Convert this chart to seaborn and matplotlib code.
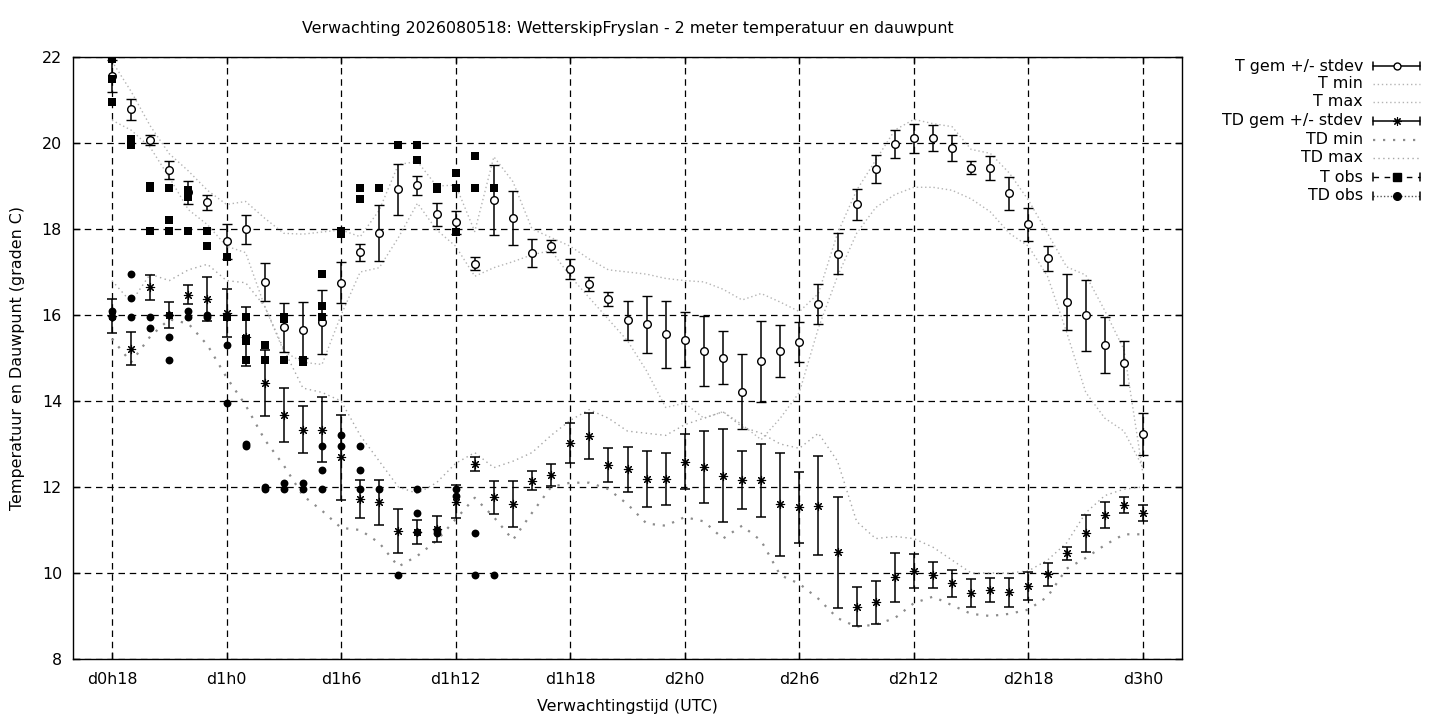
import matplotlib
matplotlib.use("Agg")
import matplotlib.pyplot as plt
from matplotlib.lines import Line2D
import seaborn as sns

sns.set_theme(style="ticks")
plt.rcParams['font.family'] = ['DejaVu Sans']
plt.rcParams['text.color'] = 'black'
plt.rcParams['axes.labelcolor'] = 'black'

# --- data (hours since d0h0) ---
hours = list(range(18, 73))
tick_hours = [18, 24, 30, 36, 42, 48, 54, 60, 66, 72]
tick_labels = ["d0h18", "d1h0", "d1h6", "d1h12", "d1h18",
               "d2h0", "d2h6", "d2h12", "d2h18", "d3h0"]
y_ticks = [8, 10, 12, 14, 16, 18, 20, 22]

t_mean = [21.55, 20.78, 20.07, 19.37, 18.85, 18.62, 17.71, 17.99, 16.77, 15.71,
          15.65, 15.84, 16.75, 17.46, 17.90, 18.92, 19.02, 18.34, 18.16, 17.19,
          18.67, 18.25, 17.44, 17.60, 17.07, 16.72, 16.37, 15.88, 15.78, 15.55,
          15.43, 15.16, 15.01, 14.22, 14.92, 15.16, 15.37, 16.26, 17.43, 18.57,
          19.39, 19.97, 20.11, 20.11, 19.88, 19.43, 19.41, 18.83, 18.11, 17.32,
          16.30, 15.99, 15.30, 14.88, 13.23]
t_sd = [0.37, 0.25, 0.12, 0.20, 0.27, 0.17, 0.40, 0.34, 0.45, 0.58,
        0.65, 0.74, 0.48, 0.20, 0.65, 0.60, 0.22, 0.27, 0.27, 0.15,
        0.82, 0.63, 0.33, 0.14, 0.23, 0.17, 0.17, 0.45, 0.66, 0.78,
        0.63, 0.81, 0.62, 0.87, 0.94, 0.60, 0.47, 0.47, 0.47, 0.36,
        0.32, 0.33, 0.34, 0.30, 0.30, 0.14, 0.28, 0.38, 0.38, 0.29,
        0.65, 0.82, 0.65, 0.51, 0.49]
t_min = [20.53, 20.30, 19.90, 19.20, 18.45, 18.10, 17.60, 17.45, 16.20, 15.15,
         14.90, 14.85, 16.00, 17.00, 17.10, 17.80, 18.60, 17.98, 17.60, 16.90,
         17.10, 17.24, 17.40, 17.50, 16.90, 16.40, 15.90, 15.40, 14.70, 13.85,
         13.95, 13.60, 13.75, 13.45, 13.10, 13.60, 14.20, 15.70, 16.90, 17.90,
         18.50, 18.80, 18.97, 18.97, 18.90, 18.70, 18.40, 17.90, 17.60, 16.90,
         15.60, 14.20, 13.60, 13.30, 12.45]
t_max = [21.90, 21.20, 20.40, 19.75, 19.35, 18.90, 18.57, 18.64, 18.25, 17.90,
         17.88, 17.93, 17.98, 17.82, 18.44, 19.50, 19.57, 19.00, 19.02, 17.94,
         19.68, 19.10, 18.00, 17.80, 17.60, 17.30, 17.05, 17.00, 16.95, 16.85,
         16.80, 16.77, 16.60, 16.35, 16.50, 16.30, 16.08, 16.50, 17.90, 18.90,
         19.60, 20.30, 20.55, 20.45, 20.38, 19.85, 19.76, 19.30, 18.67, 17.90,
         17.12, 16.93, 16.10, 15.20, 12.30]

td_mean = [15.97, 15.22, 16.64, 16.00, 16.47, 16.37, 16.04, 15.50, 14.41, 13.67,
           13.33, 13.33, 12.69, 11.72, 11.64, 10.98, 10.96, 11.02, 11.66, 12.53,
           11.76, 11.60, 12.15, 12.28, 13.02, 13.19, 12.51, 12.41, 12.18, 12.18,
           12.59, 12.47, 12.26, 12.16, 12.16, 11.60, 11.53, 11.56, 10.48, 9.22,
           9.32, 9.90, 10.05, 9.95, 9.76, 9.53, 9.60, 9.55, 9.70, 9.97,
           10.46, 10.92, 11.35, 11.58, 11.39]
td_sd = [0.40, 0.38, 0.30, 0.30, 0.22, 0.52, 0.56, 0.68, 0.77, 0.63,
         0.55, 0.76, 0.99, 0.45, 0.52, 0.51, 0.28, 0.30, 0.38, 0.16,
         0.39, 0.53, 0.22, 0.26, 0.47, 0.53, 0.40, 0.53, 0.65, 0.60,
         0.64, 0.84, 1.08, 0.68, 0.85, 1.20, 0.83, 1.15, 1.29, 0.45,
         0.50, 0.57, 0.40, 0.30, 0.32, 0.32, 0.28, 0.34, 0.32, 0.27,
         0.15, 0.42, 0.30, 0.18, 0.19]
td_min = [15.45, 14.90, 15.50, 15.90, 15.80, 15.30, 14.55, 13.90, 13.10, 12.50,
          11.80, 11.45, 11.05, 11.00, 10.70, 10.15, 10.40, 10.75, 11.25, 11.75,
          11.30, 10.77, 11.40, 12.00, 12.10, 12.10, 11.95, 11.60, 11.15, 11.10,
          11.30, 11.20, 10.80, 11.10, 10.75, 9.95, 9.75, 9.40, 8.95, 8.75,
          8.80, 8.95, 9.30, 9.45, 9.25, 9.05, 9.00, 9.05, 9.15, 9.45,
          10.10, 10.35, 10.65, 10.90, 10.90]
td_max = [16.80, 16.30, 16.95, 16.80, 17.05, 17.18, 16.80, 16.75, 16.20, 15.20,
          14.30, 14.20, 14.00, 13.20, 12.60, 12.00, 11.85, 12.10, 12.55, 12.80,
          12.45, 12.60, 12.80, 13.20, 13.55, 13.80, 13.60, 13.30, 13.25, 13.20,
          13.45, 13.60, 13.75, 13.40, 13.25, 13.00, 12.90, 13.25, 12.60, 11.20,
          10.80, 10.85, 10.80, 10.60, 10.30, 10.00, 10.00, 10.00, 10.05, 10.30,
          10.70, 11.40, 11.80, 11.95, 12.00]

# station observations (several stations per hour)
t_obs_hours = [18, 18, 18, 19, 19, 19, 20, 20, 20, 21, 21, 21, 22, 22, 22, 22,
               23, 23, 24, 24, 25, 25, 25, 25, 26, 26, 27, 27, 27, 28, 28,
               29, 29, 29, 30, 30, 31, 31, 32, 33, 34, 34, 35, 35, 36, 36, 36,
               37, 37, 38]
t_obs_values = [21.95, 21.50, 20.95, 20.10, 20.03, 19.95, 19.00, 18.95, 17.95,
                18.95, 18.20, 17.95, 18.90, 18.80, 18.75, 17.95, 17.95, 17.60,
                17.35, 15.95, 15.95, 15.45, 15.40, 14.95, 15.30, 14.95, 15.95,
                15.90, 14.95, 14.95, 14.90, 16.95, 16.20, 15.95, 17.95, 17.88,
                18.95, 18.70, 18.95, 19.95, 19.95, 19.60, 18.98, 18.93, 19.30,
                18.95, 17.92, 19.70, 18.95, 18.95]
td_obs_hours = [18, 18, 19, 19, 19, 20, 20, 21, 21, 21, 22, 22, 23, 23, 24, 24,
                25, 25, 26, 26, 27, 27, 28, 28, 29, 29, 29, 30, 30, 31, 31, 31,
                32, 33, 34, 34, 34, 35, 35, 36, 36, 37, 37, 38]
td_obs_values = [16.10, 15.95, 16.95, 16.40, 15.95, 15.95, 15.70, 16.00, 15.50,
                 14.95, 16.10, 15.95, 16.00, 15.95, 15.30, 13.95, 13.00, 12.95,
                 12.00, 11.95, 12.10, 11.95, 12.10, 11.95, 12.95, 12.40, 11.95,
                 13.20, 12.95, 12.95, 12.40, 11.95, 11.95, 9.95, 11.95, 11.40,
                 10.95, 11.00, 10.93, 11.95, 11.80, 10.93, 9.95, 9.95]

TITLE = "Verwachting 2026080518: WetterskipFryslan - 2 meter temperatuur en dauwpunt"
W, H = 1440, 720
FS = 11.4
LIGHT = "#b4b4b4"
MID = "#8c8c8c"
asterisk = (8, 2, 0)

fig = plt.figure(figsize=(14.4, 7.2), dpi=100)
ax = fig.add_axes([73 / W, 1 - 659 / H, (1182 - 73) / W, (659 - 57) / H])

# min / max envelopes
sns.lineplot(x=hours, y=t_min, ax=ax, color=LIGHT, lw=1.0, linestyle=(0, (1, 2)), zorder=2)
sns.lineplot(x=hours, y=t_max, ax=ax, color=LIGHT, lw=1.0, linestyle=(0, (1, 2)), zorder=2)
sns.lineplot(x=hours, y=td_min, ax=ax, color=MID, lw=1.6, linestyle=(0, (1, 3.5)), zorder=2)
sns.lineplot(x=hours, y=td_max, ax=ax, color="#a6a6a6", lw=1.0, linestyle=(0, (1, 2.5)), zorder=2)

# ensemble mean +/- stdev
ax.errorbar(hours, t_mean, yerr=t_sd, fmt='o', ms=5.5, mfc='white', mec='black', mew=1,
            ecolor='black', elinewidth=1.1, capsize=3.6, capthick=1.1, zorder=4)
ax.errorbar(hours, td_mean, yerr=td_sd, fmt='none', ecolor='black', elinewidth=1.1,
            capsize=3.6, capthick=1.1, zorder=4)
sns.scatterplot(x=hours, y=td_mean, ax=ax, marker=asterisk, s=36, color='black',
                linewidth=0.8, edgecolor='black', zorder=5)

# observations
sns.scatterplot(x=t_obs_hours, y=t_obs_values, ax=ax, marker='s', s=30, color='black',
                linewidth=0, zorder=6)
sns.scatterplot(x=td_obs_hours, y=td_obs_values, ax=ax, marker='o', s=32, color='black',
                linewidth=0, zorder=6)

ax.set_xlim(18 - 39 / 19.1, 72 + 39 / 19.1)
ax.set_ylim(8, 22)
ax.set_xticks(tick_hours)
ax.set_xticklabels(tick_labels)
ax.set_yticks(y_ticks)
ax.tick_params(axis='both', direction='in', length=5, width=1, colors='black',
               labelcolor='black', labelsize=FS, top=True, right=True)
ax.tick_params(axis='y', pad=8)
ax.tick_params(axis='x', pad=9)
ax.grid(True, color='black', linestyle=(0, (5.2, 3.8)), linewidth=0.9)
for s in ax.spines.values():
    s.set_color('black')
    s.set_linewidth(1)

ax.set_xlabel("Verwachtingstijd (UTC)", fontsize=FS, color='black')
ax.set_ylabel("Temperatuur en Dauwpunt (graden C)", fontsize=FS, color='black')
ax.xaxis.set_label_coords(0.5, -(699 - 659) / (659 - 57))
ax.yaxis.set_label_coords((25 - 73) / (1182 - 73), 0.5)
fig.text(627.5 / W, 1 - 29 / H, TITLE, ha='center', va='center', fontsize=FS, color='black')

# legend drawn gnuplot-style: right aligned text, sample to the right
legend_rows = [
    ("T gem +/- stdev", dict(ls='-', color='black', lw=1.1), dict(marker='o', ms=5, mfc='white', mec='black'), True),
    ("T min", dict(ls=(0, (1, 2)), color=LIGHT, lw=1.0), None, False),
    ("T max", dict(ls=(0, (1, 2)), color=LIGHT, lw=1.0), None, False),
    ("TD gem +/- stdev", dict(ls='-', color='black', lw=1.1), dict(marker=asterisk, ms=6, mec='black', mew=0.8), True),
    ("TD min", dict(ls=(0, (1, 3.5)), color=MID, lw=1.6), None, False),
    ("TD max", dict(ls=(0, (1, 2.5)), color="#a6a6a6", lw=1.0), None, False),
    ("T obs", dict(ls=(0, (4, 4)), color='black', lw=1.0), dict(marker='s', ms=5.5, mfc='black', mec='black'), True),
    ("TD obs", dict(ls=(0, (1, 1.5)), color='#555555', lw=1.0), dict(marker='o', ms=5.5, mfc='black', mec='black'), True),
]
row_y = [66, 84, 102, 121, 140, 158, 177, 196]
x0, x1 = 1373, 1420
for (label, line_kw, mark_kw, caps), yp in zip(legend_rows, row_y):
    yf = 1 - yp / H
    fig.text(1363 / W, yf, label, ha='right', va='center', fontsize=FS, color='black')
    fig.add_artist(Line2D([x0 / W, x1 / W], [yf, yf], transform=fig.transFigure, **line_kw))
    if caps:
        for xc in (x0, x1):
            fig.add_artist(Line2D([xc / W, xc / W], [yf - 4 / H, yf + 4 / H],
                                  transform=fig.transFigure, color='black', lw=1.1))
    if mark_kw:
        fig.add_artist(Line2D([(x0 + x1) / 2 / W], [yf], transform=fig.transFigure,
                              ls='none', **mark_kw))

fig.savefig("out.png", dpi=100)
